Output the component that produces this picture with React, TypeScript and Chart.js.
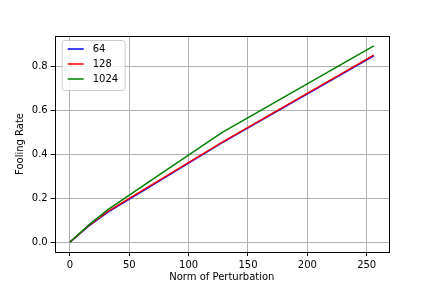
import React, { useEffect, useRef } from "react";
import { Chart, registerables } from "chart.js";

Chart.register(...registerables);

const xValues = [0, 16, 32, 64, 128, 256];
const series64 = [0, 0.074, 0.137, 0.242, 0.452, 0.849];
const series128 = [0, 0.076, 0.14, 0.245, 0.455, 0.852];
const series1024 = [0, 0.079, 0.148, 0.266, 0.499, 0.894];
const seriesLabels = ["64", "128", "1024"];
const seriesColors = ["#0000ff", "#ff0000", "#008000"];
const xTicks = [0, 50, 100, 150, 200, 250];
const yTicks = [0, 0.2, 0.4, 0.6, 0.8];
const xTitle = "Norm of Perturbation";
const yTitle = "Fooling Rate";

const FONT = "'DejaVu Sans', sans-serif";

const framePlugin = {
  id: "frame",
  afterDraw(chart: any) {
    const { ctx, chartArea } = chart;
    const { left, top, right, bottom } = chartArea;
    ctx.save();
    ctx.strokeStyle = "#000000";
    ctx.lineWidth = 1;
    ctx.strokeRect(Math.round(left) + 0.5, Math.round(top) + 0.5, Math.round(right - left), Math.round(bottom - top));

    // legend
    const bx = left + 7, by = top + 4, bw = 63, bh = 50;
    ctx.globalAlpha = 0.8;
    ctx.fillStyle = "#ffffff";
    ctx.beginPath();
    (ctx as any).roundRect(bx + 0.5, by + 0.5, bw, bh, 3);
    ctx.fill();
    ctx.globalAlpha = 1;
    ctx.strokeStyle = "#cccccc";
    ctx.stroke();
    ctx.font = `10px ${FONT}`;
    ctx.textBaseline = "middle";
    ctx.textAlign = "left";
    seriesLabels.forEach((lab, i) => {
      const y = by + 9 + i * 15;
      ctx.strokeStyle = seriesColors[i];
      ctx.lineWidth = 1.5;
      ctx.beginPath();
      ctx.moveTo(bx + 6, y);
      ctx.lineTo(bx + 22, y);
      ctx.stroke();
      ctx.fillStyle = "#000000";
      ctx.fillText(lab, bx + 31, y);
    });
    ctx.restore();
  },
};

export default function App() {
  const ref = useRef<HTMLCanvasElement>(null);
  useEffect(() => {
    const allSeries = [series64, series128, series1024];
    const chart = new Chart(ref.current as HTMLCanvasElement, {
      type: "line",
      data: {
        datasets: allSeries.map((s, i) => ({
          label: seriesLabels[i],
          data: xValues.map((x, j) => ({ x, y: s[j] })),
          borderColor: seriesColors[i],
          backgroundColor: seriesColors[i],
          borderWidth: 1.5,
          pointRadius: 0,
          tension: 0,
          fill: false,
          order: 3 - i,
        })),
      },
      options: {
        animation: false,
        responsive: false,
        maintainAspectRatio: false,
        layout: { padding: { left: 0, top: 36, right: 43, bottom: 0 } },
        plugins: { legend: { display: false }, tooltip: { enabled: false } },
        scales: {
          x: {
            type: "linear",
            min: -12.8,
            max: 268.8,
            afterBuildTicks: (scale: any) => {
              scale.ticks = xTicks.map((v) => ({ value: v }));
            },
            afterFit: (scale: any) => {
              scale.height = 36;
            },
            grid: { color: "#b0b0b0", lineWidth: 1, tickColor: "#000000", tickLength: 4, drawOnChartArea: true },
            border: { display: false },
            ticks: {
              color: "#000000",
              font: { family: FONT, size: 10 },
              padding: 3,
              maxRotation: 0,
              callback: (v: any) => String(v),
            },
            title: {
              display: true,
              text: xTitle,
              color: "#000000",
              font: { family: FONT, size: 10 },
              padding: { top: 0, bottom: 5 },
            },
          },
          y: {
            type: "linear",
            min: -0.0447,
            max: 0.939,
            afterBuildTicks: (scale: any) => {
              scale.ticks = yTicks.map((v) => ({ value: v }));
            },
            afterFit: (scale: any) => {
              scale.width = 54.7;
            },
            grid: { color: "#b0b0b0", lineWidth: 1, tickColor: "#000000", tickLength: 4 },
            border: { display: false },
            ticks: {
              color: "#000000",
              font: { family: FONT, size: 10 },
              padding: 3,
              callback: (v: any) => Number(v).toFixed(1),
            },
            title: {
              display: true,
              text: yTitle,
              color: "#000000",
              font: { family: FONT, size: 10 },
              padding: { top: 14, bottom: 0 },
            },
          },
        },
      },
      plugins: [framePlugin],
    } as any);
    return () => chart.destroy();
  }, []);
  return (
    <div style={{ position: "fixed", left: 0, top: 0, width: 432, height: 288, background: "#ffffff" }}>
      <canvas ref={ref} width={432} height={288} style={{ width: 432, height: 288 }} />
    </div>
  );
}
